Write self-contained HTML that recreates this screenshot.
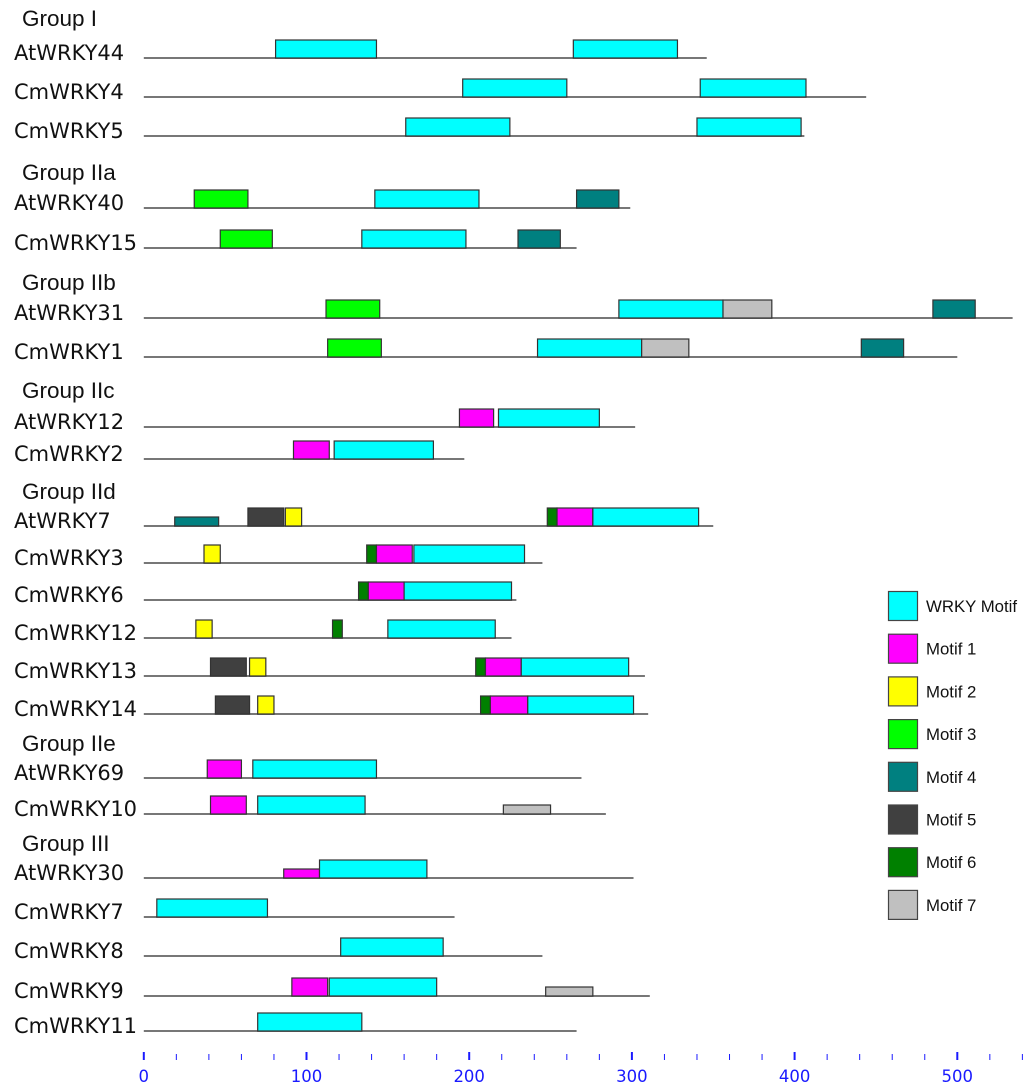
<!DOCTYPE html>
<html><head><meta charset="utf-8">
<style>
body{margin:0;background:#fff;}
svg{display:block;}
.lbl{font-family:"DejaVu Sans","Liberation Sans",sans-serif;font-size:21px;fill:#111;}
.grp{font-family:"Liberation Sans",sans-serif;font-size:22.5px;fill:#111;}
.leg{font-family:"Liberation Sans",sans-serif;font-size:16.8px;fill:#111;}
.tk{font-family:"DejaVu Sans",sans-serif;font-size:16.5px;fill:#1a1aff;}
</style></head>
<body>
<svg id="chart" width="1024" height="1089"></svg>
<script>
const groupNames = ["Group I","Group IIa","Group IIb","Group IIc","Group IId","Group IIe","Group III"];
const groupY = [26,180,290,398,499,751,851];
const geneNames = ["AtWRKY44","CmWRKY4","CmWRKY5","AtWRKY40","CmWRKY15","AtWRKY31","CmWRKY1","AtWRKY12","CmWRKY2","AtWRKY7","CmWRKY3","CmWRKY6","CmWRKY12","CmWRKY13","CmWRKY14","AtWRKY69","CmWRKY10","AtWRKY30","CmWRKY7","CmWRKY8","CmWRKY9","CmWRKY11"];
const geneRowY = [58,97,136,208,248,318,357,427,459,526,563,600,638,676,714,778,814,878,917,956,996,1031];
const geneLengths = [346,444,406,299,266,534,500,302,197,350,245,229,226,308,310,269,284,301,191,245,311,266];
// motifs: [geneIndex, motifType, start, end]; types: 0 WRKY,1..7 motifs
const motifs = [
[0,0,81,143],[0,0,264,328],
[1,0,196,260],[1,0,342,407],
[2,0,161,225],[2,0,340,404],
[3,3,31,64],[3,0,142,206],[3,4,266,292],
[4,3,47,79],[4,0,134,198],[4,4,230,256],
[5,3,112,145],[5,0,292,356],[5,7,356,386],[5,4,485,511],
[6,3,113,146],[6,0,242,306],[6,7,306,335],[6,4,441,467],
[7,1,194,215],[7,0,218,280],
[8,1,92,114],[8,0,117,178],
[9,4,19,46],[9,5,64,86],[9,2,87,97],[9,6,248,254],[9,1,254,276],[9,0,276,341],
[10,2,37,47],[10,6,137,143],[10,1,143,165],[10,0,166,234],
[11,6,132,138],[11,1,138,160],[11,0,160,226],
[12,2,32,42],[12,6,116,122],[12,0,150,216],
[13,5,41,63],[13,2,65,75],[13,6,204,210],[13,1,210,232],[13,0,232,298],
[14,5,44,65],[14,2,70,80],[14,6,207,213],[14,1,213,236],[14,0,236,301],
[15,1,39,60],[15,0,67,143],
[16,1,41,63],[16,0,70,136],[16,7,221,250],
[17,1,86,108],[17,0,108,174],
[18,0,8,76],
[19,0,121,184],
[20,1,91,113],[20,0,114,180],[20,7,247,276],
[21,0,70,134]
];
const motifNames = ["WRKY Motif","Motif 1","Motif 2","Motif 3","Motif 4","Motif 5","Motif 6","Motif 7"];
const motifColors = ["#00ffff","#ff00ff","#ffff00","#00ff00","#008080","#404040","#008000","#c0c0c0"];
const tickValues = [0,100,200,300,400,500];

const NS="http://www.w3.org/2000/svg";
const svg=document.getElementById('chart');
const x0=143.8, k=1.627;
const X=v=>x0+v*k;
function mk(tag,attrs,parent){const e=document.createElementNS(NS,tag);for(const a in attrs)e.setAttribute(a,attrs[a]);(parent||svg).appendChild(e);return e;}

groupNames.forEach((g,i)=>{
  const t=mk('text',{x:22,y:groupY[i],class:'grp'});t.textContent=g;
  
  
});
geneNames.forEach((g,i)=>{
  const y=geneRowY[i];
  const t=mk('text',{x:14,y:y+2,class:'lbl'});t.textContent=g;
  
  
  const l=mk('line',{x1:X(0),x2:X(geneLengths[i]),y1:y,y2:y,stroke:'#777','stroke-width':2});
  
  
});
const shortSet=new Set([24,54,55,61]);
motifs.forEach((m,j)=>{
  const y=geneRowY[m[0]];
  const h=shortSet.has(j)?9:18;
  const r=mk('rect',{x:X(m[2]),y:y-h,width:X(m[3])-X(m[2]),height:h,fill:motifColors[m[1]],stroke:'#333','stroke-width':1.2});
  
  
});
motifNames.forEach((n,i)=>{
  const cy=606+i*42.7;
  const r=mk('rect',{x:888.5,y:cy-14.5,width:29,height:29,fill:motifColors[i],stroke:'#444','stroke-width':1.2});
  
  
  const t=mk('text',{x:926,y:cy+6,class:'leg'});t.textContent=n;
  
  
});
for(let v=0;v<=540;v+=20){
  const major=v%100===0;
  const l=mk('line',{x1:X(v),x2:X(v),y1:major?1052:1054,y2:1060,stroke:'#1a1aff','stroke-width':major?2:1});
  
  
}
tickValues.forEach(v=>{
  const t=mk('text',{x:X(v),y:1082,class:'tk','text-anchor':'middle'});t.textContent=v;
  
  
});
</script>
</body></html>
